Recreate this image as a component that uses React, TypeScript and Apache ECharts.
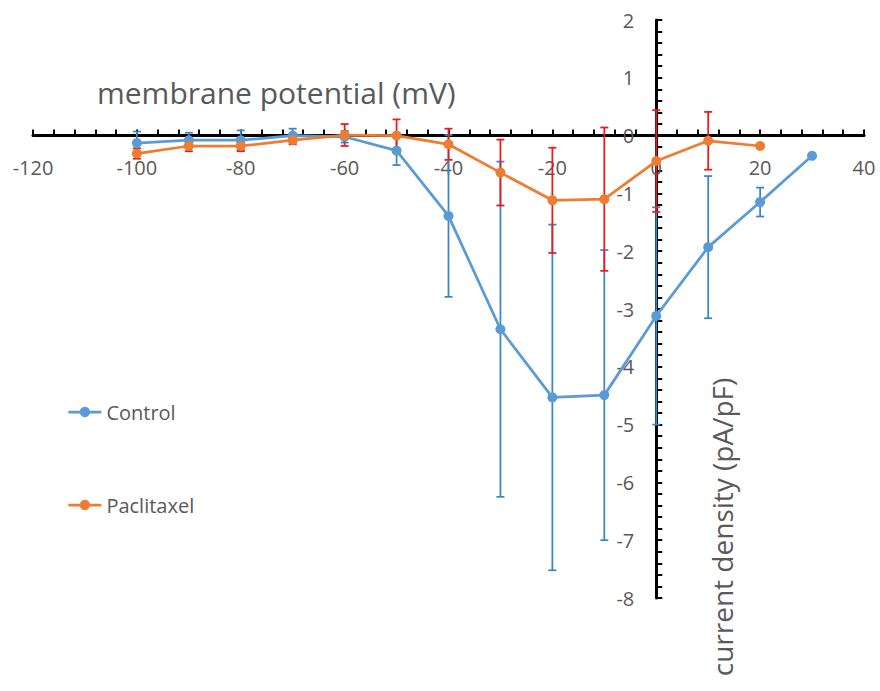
import React, { useEffect, useRef } from "react";
import * as echarts from "echarts";

const voltages = [-100, -90, -80, -70, -60, -50, -40, -30, -20, -10, 0, 10, 20, 30];
const control = [-0.13, -0.08, -0.08, 0.0, -0.02, -0.26, -1.39, -3.35, -4.53, -4.49, -3.12, -1.93, -1.15, -0.35];
const controlErr = [0.2, 0.13, 0.17, 0.12, 0.1, 0.25, 1.4, 2.9, 2.99, 2.51, 1.88, 1.23, 0.25, 0];
const paclitaxelV = [-100, -90, -80, -70, -60, -50, -40, -30, -20, -10, 0, 10, 20];
const paclitaxel = [-0.31, -0.18, -0.18, -0.08, 0.01, 0.0, -0.15, -0.64, -1.12, -1.1, -0.44, -0.09, -0.18];
const paclitaxelErr = [0.09, 0.09, 0.09, 0.07, 0.19, 0.28, 0.27, 0.57, 0.91, 1.24, 0.88, 0.5, 0];

const X_MIN = -120;
const X_MAX = 40;
const Y_MIN = -8;
const Y_MAX = 2;

const FONT = "Open Sans";
const TEXT = "#595959";

function errSeries(name: string, xs: number[], ys: number[], es: number[], color: string) {
  return {
    type: "custom",
    name,
    z: 2,
    silent: true,
    data: xs.map((x, i) => [x, ys[i] - es[i], ys[i] + es[i]]),
    encode: { x: 0, y: [1, 2] },
    renderItem: (params: any, api: any) => {
      const x = api.value(0);
      const lo = api.value(1);
      const hi = api.value(2);
      if (hi - lo <= 0) return { type: "group", children: [] };
      const pHi = api.coord([x, hi]);
      const pLo = api.coord([x, lo]);
      const w = 4;
      const st = { stroke: color, lineWidth: 1.75 };
      return {
        type: "group",
        children: [
          { type: "line", shape: { x1: pHi[0], y1: pHi[1], x2: pLo[0], y2: pLo[1] }, style: st },
          { type: "line", shape: { x1: pHi[0] - w, y1: pHi[1], x2: pHi[0] + w, y2: pHi[1] }, style: st },
          { type: "line", shape: { x1: pLo[0] - w, y1: pLo[1], x2: pLo[0] + w, y2: pLo[1] }, style: st },
        ],
      };
    },
  };
}

export default function App() {
  const ref = useRef<HTMLDivElement>(null);
  useEffect(() => {
    document.body.style.margin = "0";
    const W = 880, H = 691;
    const gl = 33, gr = 16, gt = 20, gb = 93;
    const gw = W - gl - gr;
    const gh = H - gt - gb;
    // place axes through the origin, moving labels with them
    const xOffset = -(gh * (0 - Y_MIN)) / (Y_MAX - Y_MIN);
    const yOffset = -(gw * (0 - X_MIN)) / (X_MAX - X_MIN);
    const chart = echarts.init(ref.current!, null, { renderer: "svg" });
    const axisCommon = {
      type: "value",
      splitLine: { show: false },
      axisLine: { show: true, onZero: false, lineStyle: { color: "#000", width: 3 } },
      axisTick: { show: true, inside: true, length: 6, lineStyle: { color: "#000", width: 2 } },
      minorTick: { show: true, splitNumber: 5, length: 6, lineStyle: { color: "#000", width: 2 } },
      axisLabel: { margin: 22, fontSize: 20, color: TEXT, fontFamily: FONT },
    };
    chart.setOption({
      animation: false,
      backgroundColor: "#fff",
      textStyle: { fontFamily: FONT },
      title: {
        text: "membrane potential (mV)",
        left: 92,
        top: 72,
        textStyle: { fontSize: 30, fontWeight: "normal", color: TEXT, fontFamily: FONT },
      },
      legend: {
        orient: "vertical",
        left: 67,
        top: 402,
        padding: 0,
        itemWidth: 33,
        itemHeight: 13,
        itemGap: 73,
        lineStyle: { width: 2.75 },
        data: ["Control", "Paclitaxel"],
        textStyle: { fontSize: 20, lineHeight: 20, color: TEXT, fontFamily: FONT },
      },
      grid: { left: gl, right: gr, top: gt, bottom: gb, containLabel: false },
      xAxis: { ...axisCommon, position: "bottom", offset: xOffset, min: X_MIN, max: X_MAX, interval: 20 },
      yAxis: { ...axisCommon, position: "left", offset: yOffset, min: Y_MIN, max: Y_MAX, interval: 1 },
      graphic: [
        {
          type: "text",
          x: 722,
          y: 527,
          rotation: Math.PI / 2,
          style: {
            text: "current density (pA/pF)",
            fontSize: 28,
            fontFamily: FONT,
            fill: TEXT,
            textAlign: "center",
            textVerticalAlign: "middle",
          },
        },
      ],
      series: [
        errSeries("ControlErr", voltages, control, controlErr, "#3A85D0"),
        {
          type: "line",
          name: "Control",
          z: 3,
          data: voltages.map((v, i) => [v, control[i]]),
          symbol: "circle",
          symbolSize: 10,
          lineStyle: { width: 2.75, color: "#5B9BD5" },
          itemStyle: { color: "#5B9BD5" },
        },
        errSeries("PaclitaxelErr", paclitaxelV, paclitaxel, paclitaxelErr, "#F01818"),
        {
          type: "line",
          name: "Paclitaxel",
          z: 3,
          data: paclitaxelV.map((v, i) => [v, paclitaxel[i]]),
          symbol: "circle",
          symbolSize: 10,
          lineStyle: { width: 2.75, color: "#ED7D31" },
          itemStyle: { color: "#ED7D31" },
        },
      ],
    });
    return () => chart.dispose();
  }, []);
  return <div ref={ref} style={{ width: 880, height: 691 }} />;
}
